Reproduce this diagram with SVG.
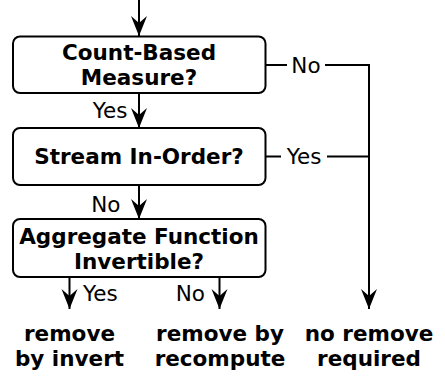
<svg xmlns="http://www.w3.org/2000/svg" width="445" height="378" viewBox="0 0 445 378">
<style>
.box{fill:#fff;stroke:#000;stroke-width:2}
.ln{fill:none;stroke:#000;stroke-width:2}
.b{font-family:"DejaVu Sans",sans-serif;font-weight:bold;font-size:20.5px;fill:#000;text-anchor:middle}
.r{font-family:"DejaVu Sans",sans-serif;font-size:20.5px;fill:#000}
</style>
<defs>
<marker id="ah" markerUnits="userSpaceOnUse" markerWidth="22" markerHeight="20" viewBox="-21 -10 22 20" refX="0" refY="0" orient="auto">
<path d="M0,0 L-20,-8 L-13,0 L-20,8 z" fill="#000"/>
</marker>
</defs>
<rect width="445" height="378" fill="#fff"/>
<g id="connectors">
<line class="ln" x1="139" y1="0" x2="139" y2="36" marker-end="url(#ah)"/>
<line class="ln" x1="139" y1="93" x2="139" y2="128" marker-end="url(#ah)"/>
<line class="ln" x1="139" y1="185" x2="139" y2="219" marker-end="url(#ah)"/>
<line class="ln" x1="69.5" y1="277" x2="69.5" y2="309" marker-end="url(#ah)"/>
<line class="ln" x1="219.5" y1="277" x2="219.5" y2="309" marker-end="url(#ah)"/>
<polyline class="ln" points="265,65 287,65"/>
<polyline class="ln" points="325,65 369,65 369,309" marker-end="url(#ah)"/>
<polyline class="ln" points="265,156.5 281,156.5"/>
<polyline class="ln" points="327,156.5 369,156.5"/>
<text class="r" text-anchor="end" transform="translate(127.5,118) scale(1.05,1)">Yes</text>
<text class="r" text-anchor="end" transform="translate(120.5,212) scale(1.05,1)">No</text>
<text class="r" transform="translate(83,301) scale(1.05,1)">Yes</text>
<text class="r" text-anchor="end" transform="translate(205,301) scale(1.05,1)">No</text>
<text class="r" text-anchor="middle" transform="translate(306,73) scale(1.05,1)">No</text>
<text class="r" text-anchor="middle" transform="translate(304,164) scale(1.05,1)">Yes</text>
</g>
<g id="n1">
<rect class="box" x="13" y="36.5" width="252.5" height="56.5" rx="7"/>
<text class="b" transform="translate(139,60) scale(1.05,1)">Count-Based</text>
<text class="b" transform="translate(139,85) scale(1.05,1)">Measure?</text>
</g>
<g id="n2">
<rect class="box" x="13" y="128" width="252.5" height="57" rx="7"/>
<text class="b" transform="translate(139,164) scale(1.05,1)">Stream In-Order?</text>
</g>
<g id="n3">
<rect class="box" x="13" y="219" width="252.5" height="58" rx="7"/>
<text class="b" transform="translate(139,244) scale(1.05,1)">Aggregate Function</text>
<text class="b" transform="translate(139,268.5) scale(1.05,1)">Invertible?</text>
</g>
<g id="t1">
<text class="b" transform="translate(69.5,341) scale(1.05,1)">remove</text>
<text class="b" transform="translate(69.5,365.5) scale(1.05,1)">by invert</text>
</g>
<g id="t2">
<text class="b" transform="translate(220,341) scale(1.05,1)">remove by</text>
<text class="b" transform="translate(220,365.5) scale(1.05,1)">recompute</text>
</g>
<g id="t3">
<text class="b" transform="translate(369,341) scale(1.05,1)">no remove</text>
<text class="b" transform="translate(369,365.5) scale(1.05,1)">required</text>
</g>
</svg>
